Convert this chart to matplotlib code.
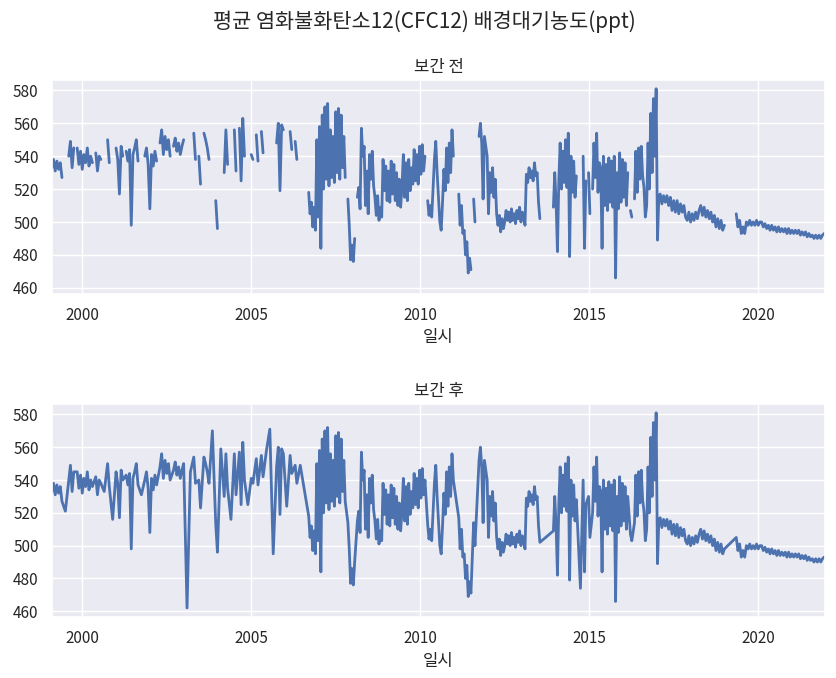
import numpy as np
import matplotlib
matplotlib.use("Agg")
import matplotlib.pyplot as plt
import seaborn as sns

nan = np.nan

# 1999.10 ~ 2006.65 (0.05년 간격), nan = 결측
era1_start, era1_step = 1999.10, 0.05
era1_values = [
    533, 538, 531, 537, 532, 536, 527, nan, 521, nan,
    540, 549, 533, 545, nan, 545, 535, 543, 532, 541,
    536, 545, 534, 540, 536, nan, 542, 531, 540, 538,
    nan, 533, nan, 550, 536, nan, 516, nan, 545, 538,
    517, 546, 540, nan, 543, 537, 544, 498, 541, 545,
    550, 537, nan, 531, nan, 540, 545, 535, 508, 541,
    534, 543, 537, nan, 548, 556, 541, 552, 544, 550,
    540, nan, 546, 551, 543, 548, 541, 546, 550, nan,
    462, nan, 545, nan, 554, 538, nan, 540, 523, nan,
    554, 550, 545, 538, nan, 570, nan, 513, 496, nan,
    559, nan, 530, 556, 535, nan, 516, nan, 556, 531,
    nan, 557, 525, 563, 540, nan, 525, nan, 541, 538,
    nan, 553, 537, nan, 555, 542, nan, 558, nan, 571,
    nan, 495, nan, 548, 560, 519, 559, 556, nan, 524,
    nan, 555, 544, nan, 549, 538, nan, 549, nan, nan,
    nan, nan,
]

# 2006.70 ~ 2017.06 (0.04년 간격)
era2_start, era2_step = 2006.70, 0.04
era2_values = [
    518, 505, 512, 497, 509, 495, 550, 503, 558, 484,
    565, 520, 570, 526, 572, 522, 556, 527, 552, 524,
    567, 530, 569, 526, 565, 533, 552, 527, nan, 514,
    498, 477, 486, 476, 490, nan, 515, 521, 508, 557,
    540, 546, 510, 531, 505, 541, 526, 543, 522, 515,
    504, 516, 501, 509, 503, 538, 519, 534, 513, 531,
    512, 537, 517, 535, 513, 530, 510, 526, 509, 521,
    541, 515, 536, 513, 538, 519, 533, 523, 544, 525,
    541, 523, 546, 529, 547, 531, 540, nan, 513, 504,
    510, 503, 520, 538, 549, 530, 515, 500, 495, 512,
    532, 519, 545, 524, 548, 530, 556, 540, nan, nan,
    nan, 517, 498, 510, 493, 495, 480, 488, 469, 478,
    471, nan, 514, 500, nan, nan, 552, 560, 548, 514,
    552, 546, 540, 505, 530, 518, 533, 515, 526, 505,
    498, 504, 494, 502, 496, 500, 507, 501, 506, 500,
    508, 501, 505, 499, 507, 502, 509, 500, 506, 503,
    498, 529, 524, 533, 527, 531, 525, 536, 528, 530,
    512, 502, nan, nan, nan, nan, nan, nan, nan, nan,
    nan, 509, 530, 512, 482, 525, 548, 520, 543, 524,
    550, 521, 554, 479, 540, 518, 537, 515, 528, nan,
    nan, 474, nan, 540, 484, 525, nan, 530, 505, nan,
    520, 548, 527, 554, 518, 536, 533, 484, 540, 510,
    535, 507, 539, 512, 537, 509, 540, 466, 530, 508,
    542, 512, 538, 515, 536, 510, 530, nan, 507, 503,
    nan, 514, 543, 518, 545, 526, 546, 528, 521, 503,
    510, 548, 520, 566, 530, 575, 540, 581, 489, 516,
]

# 2017.10 ~ 2021.95 (0.05년 간격)
era3_start, era3_step = 2017.10, 0.05
era3_values = [
    517, 511, 516, 512, 516, 510, 515, 507, 513, 506,
    513, 505, 511, 506, 510, 503, 501, 506, 500, 505,
    501, 506, 502, 507, 510, 504, 509, 503, 507, 502,
    506, 500, 504, 497, 502, 496, 501, 495, 498, nan,
    nan, nan, nan, nan, nan, 505, 497, 501, 493, 497,
    493, 500, 498, 501, 498, 500, 498, 501, 498, 500,
    500, 497, 499, 496, 498, 495, 498, 495, 497, 494,
    497, 494, 496, 494, 496, 493, 496, 493, 495, 493,
    495, 493, 495, 492, 494, 492, 494, 491, 493, 491,
    492, 490, 492, 490, 492, 490, 492, 493,
]

year_ticks = [2000, 2005, 2010, 2015, 2020]

eras = [(era1_start, era1_step, era1_values),
        (era2_start, era2_step, era2_values),
        (era3_start, era3_step, era3_values)]
t = np.concatenate([s + d * np.arange(len(v)) for s, d, v in eras])
cfc12 = np.concatenate([np.array(v, dtype=float) for _, _, v in eras])

# 보간: 결측 제거 후 선으로 연결
ok = ~np.isnan(cfc12)
t_interp, cfc12_interp = t[ok], cfc12[ok]

sns.set_theme()
plt.rcParams['font.family'] = ['Noto Sans CJK KR', 'DejaVu Sans']
plt.rcParams['axes.unicode_minus'] = False

fig = plt.figure(figsize=(8.36, 6.78), dpi=100)
ax1 = fig.add_axes([0.062, 0.567, 0.925, 0.315])
ax2 = fig.add_axes([0.062, 0.090, 0.925, 0.314])

ax1.plot(t, cfc12, color='#4c72b0', linewidth=2.0)
ax2.plot(t_interp, cfc12_interp, color='#4c72b0', linewidth=2.0)

for ax, title in [(ax1, '보간 전'), (ax2, '보간 후')]:
    ax.set_title(title)
    ax.set_xlabel('일시')
    ax.set_xlim(1999.10, 2021.98)
    ax.set_ylim(456.5, 586.3)
    ax.set_xticks(year_ticks)
    ax.set_xticklabels([str(y) for y in year_ticks])
    ax.set_yticks(np.arange(460, 581, 20))

fig.suptitle('평균 염화불화탄소12(CFC12) 배경대기농도(ppt)', fontsize=15,
             x=0.508, y=0.985, va='top')
fig.savefig('out.png', dpi=100)
